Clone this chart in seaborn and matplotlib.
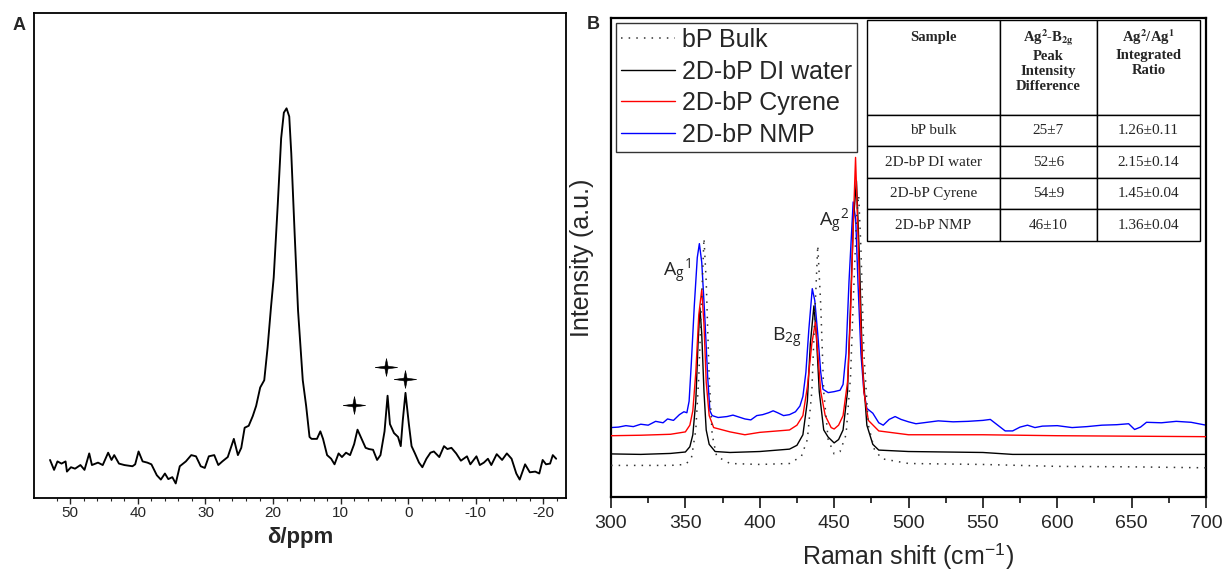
import numpy as np
import pandas as pd
import matplotlib
matplotlib.use("Agg")
import matplotlib.pyplot as plt
import seaborn as sns

# ---------------- Panel A data (31P NMR, relative intensity) ----------------
nmr_ppm = [53.0, 52.4, 51.9, 51.3, 50.7, 50.5, 49.9, 49.3, 48.5, 47.9, 47.2, 46.8, 45.9, 45.2,
           44.4, 43.9, 43.5, 42.8, 42.0, 40.8, 40.4, 39.9, 39.3, 38.6, 38.0, 37.2, 36.6, 36.0,
           35.5, 34.9, 34.4, 33.8, 32.9, 32.1, 31.4, 30.7, 30.1, 29.5, 28.7, 28.1, 27.5, 26.7,
           25.8, 25.2, 24.7, 24.2, 23.6, 23.0, 22.5, 21.9, 21.3, 20.8, 20.3, 19.9, 19.3, 18.8,
           18.4, 18.0, 17.6, 17.3, 16.8, 16.3, 15.9, 15.6, 15.1, 14.6, 14.3, 13.5, 13.0, 12.6,
           12.0, 11.4, 10.9, 10.3, 9.8, 9.2, 8.6, 8.0, 7.5, 6.9, 6.3, 5.8, 5.2, 4.6, 4.1, 3.5,
           3.05, 2.7, 2.1, 1.5, 1.1, 0.8, 0.4, -0.1, -0.5, -1.0, -1.6, -2.1, -2.7, -3.3, -3.8,
           -4.6, -5.3, -5.8, -6.4, -7.1, -7.8, -8.7, -9.2, -10.1, -10.6, -11.2, -11.8, -12.3,
           -13.1, -13.9, -14.6, -15.3, -16.0, -16.5, -17.3, -18.0, -18.8, -19.4, -19.9, -20.4,
           -21.0, -21.4, -21.9]
nmr_int = [7.85, 5.8, 7.55, 7.1, 7.55, 5.45, 6.35, 6.05, 6.8, 5.8, 9.2, 6.8, 7.3, 6.8,
           9.35, 7.85, 8.85, 7.1, 6.8, 6.55, 6.95, 9.6, 7.55, 7.3, 6.95, 4.7, 3.8, 5.05,
           3.9, 4.3, 3.0, 6.55, 7.55, 8.85, 8.6, 6.55, 6.2, 8.6, 8.85, 6.8, 7.55, 8.45,
           12.2, 8.85, 10.35, 14.5, 14.9, 16.9, 19.0, 22.8, 24.3, 31.1, 39.4, 45.5, 60.6, 74.2,
           79.5, 80.4, 78.7, 71.1, 54.5, 38.7, 30.4, 24.3, 19.0, 12.6, 12.2, 12.2, 13.75, 12.2,
           8.85, 8.1, 6.95, 9.2, 8.45, 9.35, 8.85, 11.1, 14.1, 12.2, 10.35, 10.1, 9.95, 7.85, 8.85, 13.75,
           21.1, 15.25, 13.4, 12.6, 10.7, 16.0, 21.7, 15.25, 10.7, 9.2, 7.3, 6.35, 8.1, 9.35, 9.6,
           8.45, 10.7, 10.1, 10.35, 9.2, 7.7, 8.6, 6.95, 8.6, 6.8, 7.3, 8.1, 6.8,
           9.05, 7.85, 9.2, 8.1, 5.05, 3.8, 6.95, 5.3, 5.45, 5.05, 7.85, 6.95,
           7.1, 8.85, 8.1]
star_ppm = [8.0, 3.3, 0.5]
star_int = [19.2, 27.0, 24.6]

# ---------------- Panel B data (Raman, relative intensity) ----------------
bulk_x = [300, 340, 350, 354, 357, 359, 361, 362.5, 364, 366, 368, 371, 380, 400, 420, 428, 432,
          435, 437, 439, 441, 443, 446, 450, 454, 458, 461, 463, 465, 466.5, 468, 470, 473, 477,
          482, 500, 550, 600, 650, 700]
bulk_y = [6.6, 6.6, 6.8, 8.0, 14, 25, 42, 54, 45, 25, 13, 8.5, 7.0, 6.8, 7.0, 8.5, 12,
          22, 38, 52.5, 40, 22, 12, 9.0, 9.5, 13, 25, 42, 58, 63, 52, 30, 15, 10,
          8.0, 7.0, 6.8, 6.4, 6.3, 6.1]

water_x = [300, 320, 340, 350, 353, 355, 357, 358.5, 359.8, 361, 362.5, 364, 366, 370, 380, 400,
           420, 425, 429, 432, 434, 436.4, 438, 440, 443, 446, 450, 453, 456, 459, 461, 463, 465,
           467, 469, 472, 476, 480, 500, 550, 570, 600, 650, 700]
water_y = [9.0, 8.9, 9.1, 9.4, 10.5, 13, 20, 32, 39.5, 34, 22, 14, 11, 9.5, 9.3, 9.5,
           10, 10.8, 13, 20, 32, 39.9, 34, 22, 14, 12.5, 11.3, 12, 14, 22, 40, 58, 66,
           50, 28, 15, 11, 9.8, 9.5, 9.3, 8.9, 8.9, 8.9, 8.9]

cyrene_x = [300, 320, 340, 350, 353, 355, 357, 359, 361, 362.5, 364, 366, 369, 380, 390, 400,
            420, 425, 429, 432, 435, 437.4, 439, 441, 444, 448, 450, 453, 456, 459, 461, 463,
            464.4, 466, 468, 470, 473, 480, 500, 550, 600, 650, 700]
cyrene_y = [12.8, 12.9, 13.1, 13.6, 15, 18, 26, 38, 43.3, 36, 24, 17, 14.5, 13.6, 13.0, 13.5,
            14.0, 15, 17, 23, 32, 36.5, 30, 22, 17, 14.5, 14.2, 15, 17, 24, 38, 58,
            70.9, 55, 35, 22, 16, 13.8, 13.0, 13.0, 12.8, 12.7, 12.6]

nmp_x = [300, 305, 310, 315, 320, 325, 330, 335, 338, 342, 346, 349, 351, 352.5, 354, 356, 358,
         359.4, 361, 363, 365, 366.5, 368, 372, 378, 382, 386, 390, 394, 398, 402, 406, 409, 412,
         416, 420, 424, 427, 429, 431, 433, 435.3, 437, 439, 441, 442.5, 446, 450, 454, 456, 458,
         460, 462.8, 464.5, 466, 468, 470, 472, 476, 480, 483, 487, 491, 495, 500, 505, 510, 520,
         530, 540, 550, 555, 560, 565, 570, 575, 580, 585, 590, 600, 610, 620, 630, 640, 648, 652,
         656, 660, 670, 680, 690, 700]
nmp_y = [14.5, 14.6, 14.9, 14.7, 15.2, 15.0, 15.8, 15.5, 16.3, 16.0, 17.2, 17.8, 17.6, 20, 28, 40, 50,
         52.9, 49, 38, 25, 18, 17, 16.6, 16.8, 17.1, 16.7, 16.3, 16.1, 17.0, 17.2, 17.6, 18.0, 17.6,
         17.0, 17.2, 17.8, 19, 21, 26, 35, 43.5, 41, 34, 26, 22.5, 21.8, 22.0, 22.3, 23.5, 30,
         45, 61.6, 58, 45, 30, 22, 18.5, 17.5, 15.5, 15.0, 16.2, 16.8, 16.2, 15.7, 15.3, 15.5, 15.9,
         15.7, 15.8, 16.0, 16.2, 15.0, 13.8, 13.8, 14.6, 15.0, 14.5, 14.8, 14.9, 14.5, 14.7, 15.0, 15.1, 15.3, 14.1,
         14.6, 15.6, 15.5, 15.8, 15.6, 15.0]

series_labels = ["bP Bulk", "2D-bP DI water", "2D-bP Cyrene", "2D-bP NMP"]

table_cols = ["Sample\n\n\n\n",
              "Ag$^{\\mathbf{2}}$-B$_{\\mathbf{2g}}$\nPeak\nIntensity\nDifference\n",
              "Ag$^{\\mathbf{2}}$/Ag$^{\\mathbf{1}}$\nIntegrated\nRatio\n\n"]
table_samples = ["bP bulk", "2D-bP DI water", "2D-bP Cyrene", "2D-bP NMP"]
table_diff = ["25±7", "52±6", "54±9", "46±10"]
table_ratio = ["1.26±0.11", "2.15±0.14", "1.45±0.04", "1.36±0.04"]

# ---------------- figure ----------------
sns.set_theme(style="ticks")
plt.rcParams["font.family"] = ["Liberation Sans", "DejaVu Sans"]
plt.rcParams["mathtext.fontset"] = "stix"

fig = plt.figure(figsize=(12.23, 5.74), dpi=100)
axA = fig.add_axes([0.0282, 0.1324, 0.4343, 0.8444])
axB = fig.add_axes([0.4996, 0.1341, 0.4865, 0.8345])

# thin four-pointed star marker (sparkle)
star_marker = [(-1.0, 0.0), (-0.14, 0.12), (0.0, 0.8), (0.14, 0.12), (1.0, 0.0),
               (0.14, -0.12), (0.0, -0.8), (-0.14, -0.12), (-1.0, 0.0)]

# Panel A
sns.lineplot(x=nmr_ppm, y=nmr_int, ax=axA, color="black", lw=1.35, sort=False, estimator=None)
sns.scatterplot(x=star_ppm, y=star_int, ax=axA, marker=star_marker, s=260, color="black",
                edgecolor="black", linewidth=0.4, zorder=5)
axA.set_xlim(55.3, -23.3)
axA.set_ylim(0, 100)
axA.set_yticks([])
axA.set_xticks([50, 40, 30, 20, 10, 0, -10, -20])
axA.set_xticklabels(["50", "40", "30", "20", "10", "0", "-10", "-20"])
axA.set_xticks(np.arange(-22, 54, 2), minor=True)
axA.tick_params(axis="x", which="major", direction="out", length=4, width=1, labelsize=11, pad=2)
axA.tick_params(axis="x", which="minor", direction="out", length=2, width=0.8)
axA.set_xlabel("δ/ppm", fontsize=16, fontweight="bold", labelpad=5)
axA.set_ylabel("")
for s in axA.spines.values():
    s.set_visible(True)
    s.set_linewidth(1.3)
    s.set_color("black")

# Panel B
sns.lineplot(x=nmp_x, y=nmp_y, ax=axB, color="#0000ff", lw=1.0, sort=False, estimator=None,
             label=series_labels[3], zorder=2)
sns.lineplot(x=water_x, y=water_y, ax=axB, color="black", lw=1.0, sort=False, estimator=None,
             label=series_labels[1], zorder=3)
sns.lineplot(x=cyrene_x, y=cyrene_y, ax=axB, color="#ff0000", lw=1.0, sort=False, estimator=None,
             label=series_labels[2], zorder=4)
sns.lineplot(x=bulk_x, y=bulk_y, ax=axB, color="#333333", lw=1.1, sort=False, estimator=None,
             label=series_labels[0], zorder=5, dashes=False)
axB.lines[-1].set_linestyle((0, (1, 4)))

handles, labels = axB.get_legend_handles_labels()
order = [labels.index(l) for l in series_labels]
leg = axB.legend([handles[i] for i in order], [labels[i] for i in order],
                 loc="upper left", bbox_to_anchor=(0.0, 1.0), borderaxespad=0.2,
                 fontsize=18, frameon=True, fancybox=False, edgecolor="black",
                 handlelength=2.15, handletextpad=0.3, labelspacing=0.3, borderpad=0.2)
leg.get_frame().set_linewidth(1.0)

axB.set_xlim(300, 700)
axB.set_ylim(0, 100)
axB.set_yticks([])
axB.set_xticks(np.arange(300, 701, 50))
axB.set_xticks(np.arange(325, 700, 50), minor=True)
axB.tick_params(axis="x", which="major", direction="out", length=8, width=1.3, labelsize=14, pad=5)
axB.tick_params(axis="x", which="minor", direction="out", length=4, width=1.3)
axB.set_xlabel("Raman shift (cm$^{\\mathregular{-1}}$)", fontsize=18, labelpad=7)
axB.set_ylabel("Intensity (a.u.)", fontsize=18, labelpad=12)
for s in axB.spines.values():
    s.set_visible(True)
    s.set_linewidth(1.6)
    s.set_color("black")

# peak labels
axB.text(335, 46, "A$_\\mathregular{g}$$^\\mathregular{1}$", fontsize=14, family="Open Sans")
axB.text(408, 32.5, "B$_\\mathregular{2g}$", fontsize=14, family="Open Sans")
axB.text(440, 56.5, "A$_\\mathregular{g}$$^\\mathregular{2}$", fontsize=14, family="Open Sans")

# table
cell_text = [[a, b, c] for a, b, c in zip(table_samples, table_diff, table_ratio)]
tbl = axB.table(cellText=cell_text, colLabels=table_cols, cellLoc="center",
                colWidths=[0.40, 0.29, 0.31], bbox=[0.430, 0.535, 0.560, 0.46], zorder=6)
tbl.auto_set_font_size(False)
for (r, c), cell in tbl.get_celld().items():
    cell.set_edgecolor("black")
    cell.set_linewidth(1.0)
    cell.set_facecolor("white")
    cell.get_text().set_family(["Liberation Serif", "DejaVu Serif"])
    if r == 0:
        cell.set_height(3.0)
        cell.get_text().set_fontsize(10.5)
        cell.get_text().set_fontweight("bold")
        cell.get_text().set_linespacing(1.2)
    else:
        cell.set_height(1.0)
        cell.get_text().set_fontsize(11)

fig.text(0.0155, 0.955, "A", fontsize=13, fontweight="bold", ha="center", va="center")
fig.text(0.485, 0.958, "B", fontsize=13, fontweight="bold", ha="center", va="center")

fig.savefig("out.png", dpi=100)
